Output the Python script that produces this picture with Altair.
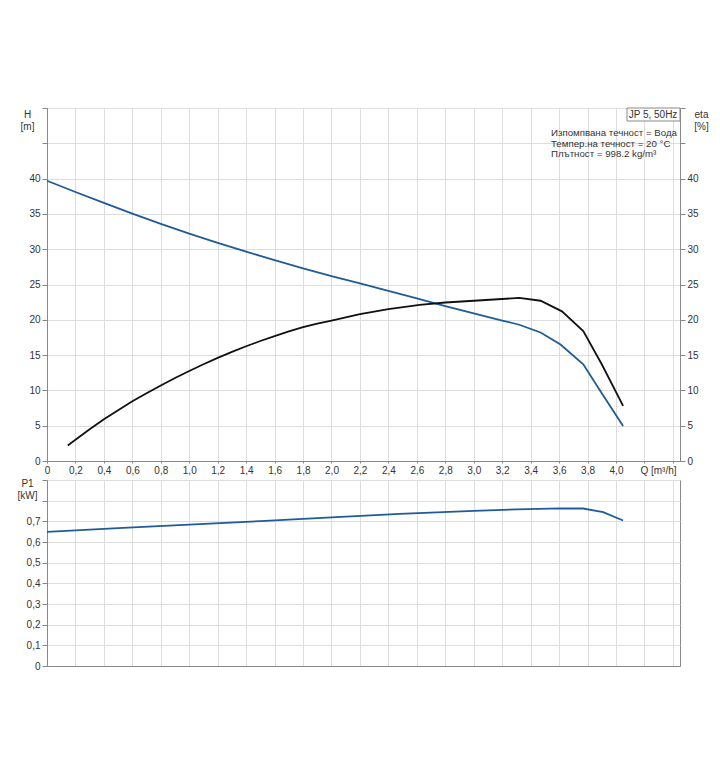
import altair as alt
import pandas as pd

# ---------------- data ----------------
q_h = [0.0, 0.2, 0.4, 0.6, 0.8, 1.0, 1.2, 1.4, 1.6, 1.8, 2.0, 2.2, 2.4, 2.6, 2.8, 3.0, 3.2,
       3.32, 3.47, 3.61, 3.77, 3.9, 4.05]
h_vals = [39.7, 38.1, 36.55, 35.05, 33.6, 32.2, 30.9, 29.65, 28.45, 27.3, 26.2, 25.15, 24.1,
          23.05, 21.95, 20.9, 19.9, 19.3, 18.2, 16.5, 13.7, 9.6, 4.95]

q_eta = [0.146, 0.2, 0.3, 0.4, 0.5, 0.6, 0.7, 0.8, 0.9, 1.0, 1.1, 1.2, 1.3, 1.4, 1.5, 1.6, 1.7,
         1.8, 1.9, 2.0, 2.2, 2.4, 2.62, 2.8, 3.0, 3.32, 3.47, 3.62, 3.77, 3.9, 4.05]
eta_vals = [2.2, 3.0, 4.5, 5.9, 7.2, 8.45, 9.6, 10.7, 11.75, 12.75, 13.7, 14.6, 15.45, 16.25,
            17.0, 17.7, 18.35, 18.95, 19.45, 19.9, 20.8, 21.5, 22.1, 22.45, 22.7, 23.1, 22.7,
            21.2, 18.4, 13.7, 7.8]

q_p1 = [0.0, 0.5, 1.0, 1.5, 2.0, 2.48, 3.0, 3.3, 3.61, 3.77, 3.91, 4.05]
p1_vals = [0.649, 0.667, 0.684, 0.701, 0.719, 0.736, 0.751, 0.758, 0.763, 0.762, 0.744, 0.704]

x_ticks = [0.0, 0.2, 0.4, 0.6, 0.8, 1.0, 1.2, 1.4, 1.6, 1.8, 2.0, 2.2, 2.4, 2.6, 2.8,
           3.0, 3.2, 3.4, 3.6, 3.8, 4.0, 4.2, 4.4]
h_ticks = [0, 5, 10, 15, 20, 25, 30, 35, 40, 45, 50]
p_ticks = [0.0, 0.1, 0.2, 0.3, 0.4, 0.5, 0.6, 0.7, 0.8, 0.9]

legend_title = "JP 5, 50Hz"
info_lines = ["Изпомпвана течност = Вода", "Темпер.на течност = 20 °C", "Плътност = 998.2 kg/m³"]

# ---------------- styles ----------------
BLUE = "#1f5b98"
BLACK = "#111111"
FONT = "Liberation Sans"
W = 633
H_TOP = 353
H_BOT = 186

df_h = pd.DataFrame({"Q": q_h, "v": h_vals})
df_eta = pd.DataFrame({"Q": q_eta, "v": eta_vals})
df_p1 = pd.DataFrame({"Q": q_p1, "v": p1_vals})

x_label_expr = ("datum.value > 4.05 ? '' : (datum.value == 0 ? '0' : "
                "replace(format(datum.value, '.1f'), '.', ','))")
h_label_expr = "datum.value > 42 ? '' : format(datum.value, 'd')"
p_label_expr = ("datum.value > 0.75 ? '' : (datum.value == 0 ? '0' : "
                "replace(format(datum.value, '.1f'), '.', ','))")

x_scale = alt.Scale(domain=[0, 4.45], nice=False, zero=False)
h_scale = alt.Scale(domain=[0, 50], nice=False)
p_scale = alt.Scale(domain=[0, 0.9], nice=False)

x_axis_top = alt.Axis(values=x_ticks, labelExpr=x_label_expr, grid=True, tickSize=2,
                      labelPadding=2, labelOverlap=False, labelFlush=False, labelBound=False,
                      title="Q [m³/h]", titleAngle=0, titleX=611, titleY=9,
                      titleAlign="center", titleBaseline="middle", titleFontWeight="normal",
                      titleFontSize=10, titleFont=FONT, titleColor="#333")

h_line = alt.Chart(df_h).mark_line(color=BLUE, strokeWidth=1.8).encode(
    x=alt.X("Q:Q", scale=x_scale, axis=x_axis_top),
    y=alt.Y("v:Q", scale=h_scale,
            axis=alt.Axis(values=h_ticks, labelExpr=h_label_expr, grid=True, tickSize=5,
                          labelPadding=2,
                          title=["H", "[m]"], titleAngle=0, titleX=-20,
                          titleY=1, titleAlign="center", titleBaseline="top",
                          titleFontWeight="normal", titleFontSize=10, titleLineHeight=12,
                          titleFont=FONT, titleColor="#333")),
)

eta_line = alt.Chart(df_eta).mark_line(color=BLACK, strokeWidth=1.8).encode(
    x=alt.X("Q:Q", scale=x_scale, axis=x_axis_top),
    y=alt.Y("v:Q", scale=h_scale,
            axis=alt.Axis(orient="right", values=h_ticks, labelExpr=h_label_expr, grid=False,
                          tickSize=5, labelPadding=2,
                          title=["eta", "[%]"], titleAngle=0,
                          titleX=21, titleY=1, titleAlign="center", titleBaseline="top",
                          titleFontWeight="normal", titleFontSize=10, titleLineHeight=12,
                          titleFont=FONT, titleColor="#333")),
)

box = alt.Chart(pd.DataFrame({"t": [legend_title]})).mark_rect(
    fill="white", stroke="#888", strokeWidth=1
).encode(x=alt.value(580), x2=alt.value(633), y=alt.value(0), y2=alt.value(13))

box_text = alt.Chart(pd.DataFrame({"t": [legend_title]})).mark_text(
    font=FONT, fontSize=10, color="#333", align="center", baseline="middle"
).encode(x=alt.value(606), y=alt.value(6.5), text="t:N")

info_layers = []
for i, line in enumerate(info_lines):
    info_layers.append(
        alt.Chart(pd.DataFrame({"t": [line]})).mark_text(
            font=FONT, fontSize=9.7, color="#333", align="left", baseline="middle"
        ).encode(x=alt.value(504), y=alt.value(25 + 10.5 * i), text="t:N")
    )

top = alt.layer(h_line, eta_line, box, box_text, *info_layers).resolve_axis(
    y="independent"
).properties(width=W, height=H_TOP)

bottom = alt.Chart(df_p1).mark_line(color=BLUE, strokeWidth=1.8).encode(
    x=alt.X("Q:Q", scale=x_scale,
            axis=alt.Axis(values=x_ticks, labels=False, ticks=False, grid=True, title=None)),
    y=alt.Y("v:Q", scale=p_scale,
            axis=alt.Axis(values=p_ticks, labelExpr=p_label_expr, grid=True, tickSize=5,
                          labelPadding=2,
                          title=["P1", "[kW]"], titleAngle=0, titleX=-20,
                          titleY=-2, titleAlign="center", titleBaseline="top",
                          titleFontWeight="normal", titleFontSize=10, titleLineHeight=12,
                          titleFont=FONT, titleColor="#333")),
).properties(width=W, height=H_BOT)

chart = alt.vconcat(top, bottom, spacing=1).properties(
    padding={"left": 16, "top": 107, "right": 5, "bottom": 5},
    background="white",
).configure_view(
    stroke="#888", strokeWidth=1
).configure_axis(
    labelFont=FONT, labelFontSize=10, labelColor="#333",
    domainColor="#888", tickColor="#888", gridColor="#dddddd", gridWidth=1,
).configure_axisX(
    labelOverlap=False
)

chart.save("out.html", embed_options={"renderer": "svg", "actions": False})
